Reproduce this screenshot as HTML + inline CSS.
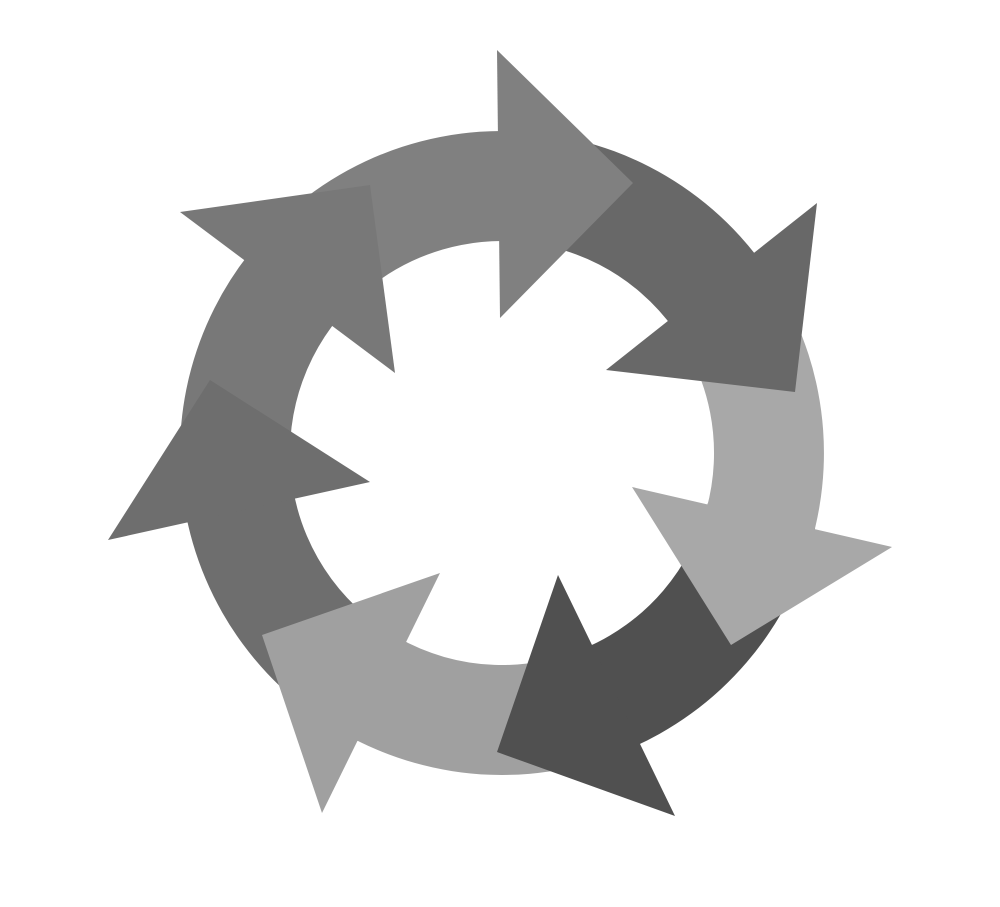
<!DOCTYPE html>
<html><head><meta charset="utf-8"><style>html,body{margin:0;padding:0;background:#fff}svg{display:block}</style></head>
<body>
<svg width="1000" height="907" viewBox="0 0 1000 907" xmlns="http://www.w3.org/2000/svg">
<path d="M187.6,522.7 A322,322 0 0 1 254.6,246.9 L339.1,317.3 A212,212 0 0 0 295,498.9 Z" fill="#787878"/>
<path d="M357.8,740.9 A322,322 0 0 1 184.4,506.1 L292.9,488 A212,212 0 0 0 407.1,642.6 Z" fill="#6e6e6e"/>
<path d="M640.6,743.6 A322,322 0 0 1 343,733 L397.3,637.3 A212,212 0 0 0 593.3,644.4 Z" fill="#a0a0a0"/>
<path d="M815.1,528.2 A322,322 0 0 1 625.2,750.5 L583.1,648.9 A212,212 0 0 0 708.1,502.5 Z" fill="#505050"/>
<path d="M754,252.6 A322,322 0 0 1 810.7,544.4 L705.3,513.2 A212,212 0 0 0 667.9,321 Z" fill="#a8a8a8"/>
<path d="M502,131 A322,322 0 0 1 764.1,266 L674.6,329.9 A212,212 0 0 0 502,241 Z" fill="#686868"/>
<path d="M244.2,260.1 A322,322 0 0 1 518.8,131.4 L513.1,241.3 A212,212 0 0 0 332.3,326 Z" fill="#808080"/>
<polygon points="497,50 633,183 500,318" fill="#808080"/>
<polygon points="817,203 795,392 606,370" fill="#686868"/>
<polygon points="892,547 731,645 632,487" fill="#a8a8a8"/>
<polygon points="675,816 497,752 558,575" fill="#505050"/>
<polygon points="322,813 262,635 440,573" fill="#a0a0a0"/>
<polygon points="108,540 210,380 370,482" fill="#6e6e6e"/>
<polygon points="180,212 370,185 395,373" fill="#787878"/>
</svg>
</body></html>
